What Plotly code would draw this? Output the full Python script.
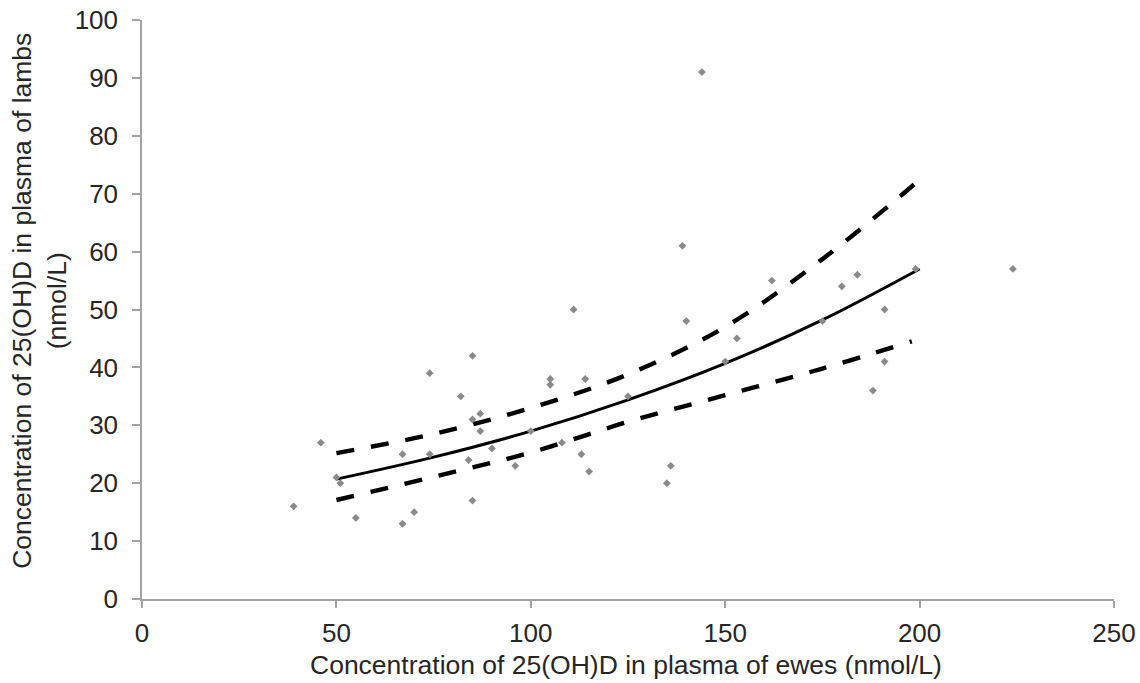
import plotly.graph_objects as go

# Paired observations: 25(OH)D in ewes (x) vs their lambs (y), nmol/L
ewe_conc = [39, 46, 50, 51, 55, 67, 67, 70, 74, 74, 82, 84, 85, 85, 85, 87, 87, 90, 96, 100,
            105, 105, 108, 111, 113, 114, 115, 125, 135, 136, 139, 140, 144, 150, 153, 162,
            175, 180, 184, 188, 191, 191, 199, 224]
lamb_conc = [16, 27, 21, 20, 14, 13, 25, 15, 39, 25, 35, 24, 42, 31, 17, 32, 29, 26, 23, 29,
             38, 37, 27, 50, 25, 38, 22, 35, 20, 23, 61, 48, 91, 41, 45, 55,
             48, 54, 56, 36, 50, 41, 57, 57]

# Fitted curve and its confidence band, sampled along the ewe axis
fit_x = [50, 75, 100, 125, 150, 175, 200]
fit_y = [20.7, 24.5, 29.0, 34.4, 40.7, 48.2, 57.0]
upper_x = [50, 75, 100, 125, 150, 175, 200]
upper_y = [25.2, 28.5, 33.0, 38.8, 47.0, 58.7, 72.4]
lower_x = [50, 75, 100, 125, 150, 175, 198]
lower_y = [17.1, 21.1, 25.3, 30.6, 35.2, 39.8, 44.5]

x_ticks = [0, 50, 100, 150, 200, 250]
y_ticks = [0, 10, 20, 30, 40, 50, 60, 70, 80, 90, 100]

FONT = "Liberation Sans, Arial, sans-serif"
TEXT = "#262626"
AXIS_GREY = "#a3a3a3"

fig = go.Figure()

for bx, by in [(upper_x, upper_y), (lower_x, lower_y)]:
    fig.add_trace(go.Scatter(
        x=bx, y=by, mode="lines", line_shape="spline",
        line=dict(color="black", width=4.4, dash="18px,17px"),
        hoverinfo="skip", showlegend=False,
    ))

fig.add_trace(go.Scatter(
    x=fit_x, y=fit_y, mode="lines", line_shape="spline",
    line=dict(color="black", width=3),
    hoverinfo="skip", showlegend=False,
))

fig.add_trace(go.Scatter(
    x=ewe_conc, y=lamb_conc, mode="markers",
    marker=dict(symbol="diamond", size=6, color="#8a8a8a"),
    showlegend=False,
))

fig.update_layout(
    width=1140, height=683,
    margin=dict(l=142, r=26, t=20, b=84),
    paper_bgcolor="white", plot_bgcolor="white",
    font=dict(family=FONT, color=TEXT),
)

fig.update_xaxes(
    range=[0, 250], tickvals=x_ticks, ticktext=[str(v) for v in x_ticks],
    showgrid=False, zeroline=False, automargin=False,
    showline=True, linecolor=AXIS_GREY, linewidth=1.5,
    ticks="outside", ticklen=7, tickcolor=AXIS_GREY, tickwidth=1.5,
    tickfont=dict(size=26, family=FONT, color=TEXT),
    ticklabelstandoff=3,
)
fig.update_yaxes(
    range=[0, 100], tickvals=y_ticks, ticktext=[str(v) for v in y_ticks],
    showgrid=False, zeroline=False, automargin=False,
    showline=True, linecolor=AXIS_GREY, linewidth=1.5,
    ticks="outside", ticklen=8, tickcolor=AXIS_GREY, tickwidth=1.5,
    tickfont=dict(size=26, family=FONT, color=TEXT),
    ticklabelstandoff=9,
)

fig.add_annotation(
    text="Concentration of 25(OH)D in plasma of ewes (nmol/L)",
    xref="paper", yref="paper", x=0.498, y=-0.114,
    xanchor="center", yanchor="middle", showarrow=False,
    font=dict(size=26.5, family=FONT, color=TEXT),
)
fig.add_annotation(
    text="Concentration of 25(OH)D in plasma of lambs<br>(nmol/L)",
    xref="paper", yref="paper", x=-0.106, y=0.515,
    xanchor="center", yanchor="middle", textangle=-90, showarrow=False,
    font=dict(size=26.5, family=FONT, color=TEXT),
)

fig.write_html("out.html")
